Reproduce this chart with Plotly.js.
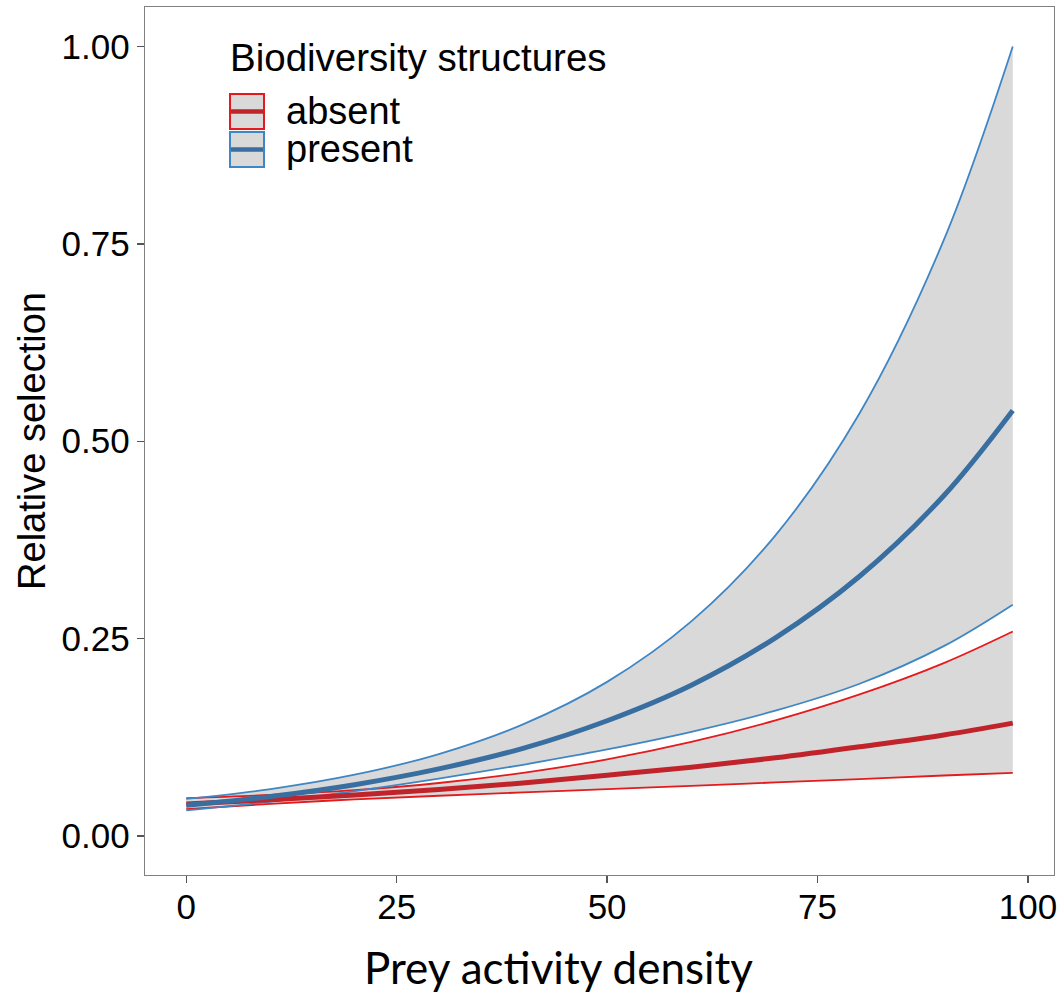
<!DOCTYPE html>
<html>
<head>
<meta charset="utf-8">
<script src="https://cdn.plot.ly/plotly-3.0.1.min.js"></script>
<style>
  html, body { margin: 0; padding: 0; background: #ffffff; }
  #chart { width: 1063px; height: 994px; }
</style>
</head>
<body>
<div id="chart"></div>
<script>
// ---- data ----
const preyDensity   = [0, 10, 20, 30, 40, 50, 60, 70, 80, 90, 98.2];

const absentMean    = [0.0405, 0.046, 0.052, 0.059, 0.067, 0.077, 0.087, 0.099, 0.113, 0.128, 0.143];
const absentLower   = [0.034, 0.0407, 0.0464, 0.0510, 0.0552, 0.0594, 0.0635, 0.0678, 0.0721, 0.0766, 0.080];
const absentUpper   = [0.048, 0.0520, 0.0580, 0.0671, 0.0800, 0.0971, 0.1192, 0.1464, 0.1793, 0.2190, 0.259];

const presentMean   = [0.039, 0.050, 0.065, 0.085, 0.111, 0.146, 0.191, 0.251, 0.329, 0.431, 0.539];
const presentLower  = [0.0325, 0.0434, 0.0569, 0.0727, 0.0902, 0.1096, 0.1319, 0.1587, 0.1928, 0.2405, 0.293];
const presentUpper  = [0.047, 0.0594, 0.0776, 0.1038, 0.1414, 0.1952, 0.2718, 0.3808, 0.5355, 0.7547, 1.000];

const groupNames    = ['absent', 'present'];
const legendTitle   = 'Biodiversity structures';
const xTitle        = 'Prey activity density';
const yTitle        = 'Relative selection';

// ---- styles ----
const FILL = 'rgb(217,217,217)';
const RED_EDGE = '#e41a1c', RED_MEAN = '#c1232b';
const BLUE_EDGE = '#3f86c4', BLUE_MEAN = '#386ea0';
const FONT = 'Arial, "Liberation Sans", sans-serif';

function fillPair(lower, upper) {
  return [
    {x: preyDensity, y: lower, type: 'scatter', mode: 'lines',
     line: {width: 0, shape: 'spline'}, showlegend: false, hoverinfo: 'skip'},
    {x: preyDensity, y: upper, type: 'scatter', mode: 'lines', fill: 'tonexty',
     fillcolor: FILL, line: {width: 0, shape: 'spline'}, showlegend: false, hoverinfo: 'skip'}
  ];
}
function line(y, color, width, name) {
  return {x: preyDensity, y: y, type: 'scatter', mode: 'lines', name: name,
          line: {color: color, width: width, shape: 'spline'}, showlegend: false};
}

const traces = [
  ...fillPair(absentLower, absentUpper),
  ...fillPair(presentLower, presentUpper),
  line(absentUpper, RED_EDGE, 1.8, groupNames[0] + ' upper'),
  line(absentLower, RED_EDGE, 1.8, groupNames[0] + ' lower'),
  line(presentUpper, BLUE_EDGE, 1.8, groupNames[1] + ' upper'),
  line(presentLower, BLUE_EDGE, 1.8, groupNames[1] + ' lower'),
  line(absentMean, RED_MEAN, 5, groupNames[0]),
  line(presentMean, BLUE_MEAN, 5, groupNames[1])
];

// ---- manual legend (paper coords) ----
const W = 1063, H = 994, L = 145, R = 9, T = 7, B = 119;
const pw = W - L - R, ph = H - T - B;
const px = v => (v - L) / pw;
const py = v => (H - B - v) / ph;

const keys = [
  {name: groupNames[0], edge: RED_EDGE, mean: RED_MEAN, top: 94, bot: 129},
  {name: groupNames[1], edge: BLUE_EDGE, mean: BLUE_MEAN, top: 132, bot: 167}
];
const shapes = [];
const annotations = [];
keys.forEach(k => {
  shapes.push({type: 'rect', xref: 'paper', yref: 'paper',
    x0: px(230), x1: px(264), y0: py(k.bot), y1: py(k.top),
    fillcolor: FILL, line: {color: k.edge, width: 2}});
  const mid = (k.top + k.bot) / 2;
  shapes.push({type: 'line', xref: 'paper', yref: 'paper',
    x0: px(231), x1: px(263), y0: py(mid), y1: py(mid),
    line: {color: k.mean, width: 4.5}});
  annotations.push({xref: 'paper', yref: 'paper', x: px(284), y: py(mid - 1),
    xanchor: 'left', yanchor: 'middle', showarrow: false, text: k.name,
    font: {family: FONT, size: 38, color: '#000'}});
});
annotations.push({xref: 'paper', yref: 'paper', x: px(228), y: py(58),
  xanchor: 'left', yanchor: 'middle', showarrow: false, text: legendTitle,
  font: {family: FONT, size: 38.5, color: '#000'}});
annotations.push({xref: 'paper', yref: 'paper', x: px(558), y: py(967),
  xanchor: 'center', yanchor: 'middle', showarrow: false, text: xTitle,
  font: {family: 'Lato, "Open Sans", sans-serif', size: 44, color: '#000'}});

const layout = {
  width: W, height: H,
  margin: {l: L, r: R, t: T, b: B},
  paper_bgcolor: '#ffffff', plot_bgcolor: '#ffffff',
  showlegend: false,
  font: {family: FONT, color: '#000'},
  xaxis: {
    range: [-4.91, 103.1], tickmode: 'array', tickvals: [0, 25, 50, 75, 100],
    showgrid: false, zeroline: false, showline: true, mirror: true,
    linecolor: '#808080', linewidth: 1.3,
    ticks: 'outside', ticklen: 7, tickwidth: 1.3, tickcolor: '#555',
    ticklabelstandoff: -6,
    tickfont: {family: FONT, size: 35, color: '#000'}
  },
  yaxis: {
    range: [-0.0494, 1.050], tickmode: 'array', tickvals: [0, 0.25, 0.5, 0.75, 1],
    tickformat: '.2f',
    showgrid: false, zeroline: false, showline: true, mirror: true,
    linecolor: '#808080', linewidth: 1.3,
    ticks: 'outside', ticklen: 7, tickwidth: 1.3, tickcolor: '#555',
    tickfont: {family: FONT, size: 35, color: '#000'},
    title: {text: yTitle, font: {family: FONT, size: 38, color: '#000'}, standoff: 4}
  },
  shapes: shapes,
  annotations: annotations
};

Plotly.newPlot('chart', traces, layout, {displayModeBar: false, staticPlot: true});
</script>
</body>
</html>
